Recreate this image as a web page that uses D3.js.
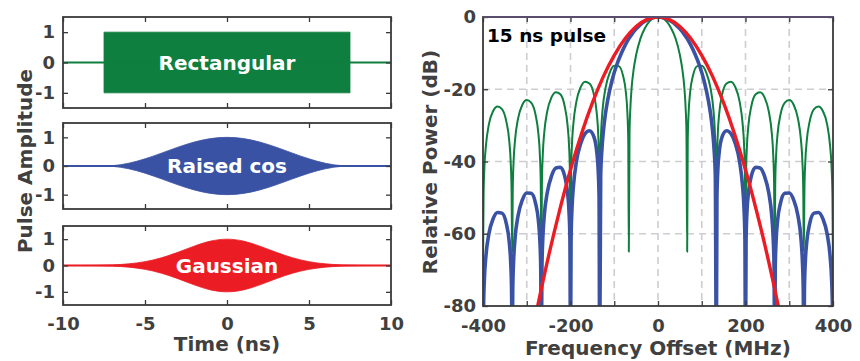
<!DOCTYPE html>
<html><head><meta charset="utf-8">
<script src="https://cdn.jsdelivr.net/npm/d3@7"></script>
<style>
body{margin:0;background:#fff;}
svg{display:block;font-family:"DejaVu Sans",sans-serif;font-weight:bold;}
</style></head><body>
<svg id="c" width="860" height="361"></svg>
<script>
// ---------------- data ----------------
const timeTicks = [-10, -5, 0, 5, 10];
const ampTicks = [-1, 0, 1];
const freqTicks = [-400, -300, -200, -100, 0, 100, 200, 300, 400];
const freqLabelTicks = [-400, -200, 0, 200, 400];
const dbTicks = [-80, -60, -40, -20, 0];
const freqGrid = [-300, -200, -100, 0, 100, 200, 300];
const dbGrid = [-60, -40, -20];
const pulseNames = ["Rectangular", "Raised cos", "Gaussian"];
const pulseColors = ["#0e7f3e", "#3a52a3", "#ec1c24"];

// time-domain envelopes (ns, amplitude)
const rectTime = [-10, -7.5, -7.5, 7.5, 7.5, 10];
const rectEnv  = [0, 0, 1, 1, 0, 0];
const cosTime  = [-10, -7.5, -7, -6, -5, -4, -3, -2, -1, 0, 1, 2, 3, 4, 5, 6, 7, 7.5, 10];
const cosEnv   = [0, 0, 0.011, 0.096, 0.25, 0.448, 0.655, 0.835, 0.957, 1, 0.957, 0.835, 0.655, 0.448, 0.25, 0.096, 0.011, 0, 0];
const gaussTime = [-10, -9, -8, -7, -6, -5, -4, -3, -2, -1, 0, 1, 2, 3, 4, 5, 6, 7, 8, 9, 10];
const gaussEnv  = [0.0005, 0.002, 0.007, 0.023, 0.063, 0.146, 0.292, 0.5, 0.735, 0.926, 1, 0.926, 0.735, 0.5, 0.292, 0.146, 0.063, 0.023, 0.007, 0.002, 0.0005];

// spectra (MHz, dB)
const rectSpectrum = [
 [-400,-70],[-398.7,-49.5],[-396.7,-41.5],[-393.3,-35.6],[-386.7,-29.8],[-376.7,-26.0],[-366.7,-24.8],[-356.7,-25.5],[-346.7,-28.9],[-340,-34.3],[-336.7,-40.1],[-334.7,-48.0],
 [-333.3,-65],[-332,-47.9],[-330,-39.9],[-326.7,-34.0],[-320,-28.2],[-310,-24.3],[-300,-23.0],[-290,-23.7],[-280,-27.0],[-273.3,-32.4],[-270,-38.2],[-268,-46.0],
 [-266.7,-65],[-265.3,-45.9],[-263.3,-38.0],[-260,-32.0],[-253.3,-26.2],[-243.3,-22.2],[-233.3,-20.8],[-223.3,-21.4],[-213.3,-24.7],[-206.7,-30.0],[-203.3,-35.7],[-201.3,-43.5],
 [-200,-65],[-198.7,-43.4],[-196.7,-35.4],[-193.3,-29.4],[-186.7,-23.5],[-176.7,-19.4],[-166.7,-17.9],[-156.7,-18.4],[-146.7,-21.4],[-140,-26.6],[-136.7,-32.3],[-134.7,-40.1],
 [-133.3,-65],[-132,-39.9],[-130,-31.9],[-126.7,-25.7],[-120,-19.7],[-110,-15.3],[-100,-13.5],[-90,-13.6],[-80,-16.2],[-73.3,-21.0],[-70,-26.5],[-68,-34.1],
 [-66.7,-65],[-65,-31.8],[-63,-24.8],[-60,-19.2],[-56,-14.8],[-50,-10.5],[-40,-5.9],[-30,-3.1],[-20,-1.3],[-10,-0.3],[0,0],
 [10,-0.3],[20,-1.3],[30,-3.1],[40,-5.9],[50,-10.5],[56,-14.8],[60,-19.2],[63,-24.8],[65,-31.8],[66.7,-65],
 [68,-34.1],[70,-26.5],[73.3,-21.0],[80,-16.2],[90,-13.6],[100,-13.5],[110,-15.3],[120,-19.7],[126.7,-25.7],[130,-31.9],[132,-39.9],[133.3,-65],
 [134.7,-40.1],[136.7,-32.3],[140,-26.6],[146.7,-21.4],[156.7,-18.4],[166.7,-17.9],[176.7,-19.4],[186.7,-23.5],[193.3,-29.4],[196.7,-35.4],[198.7,-43.4],[200,-65],
 [201.3,-43.5],[203.3,-35.7],[206.7,-30.0],[213.3,-24.7],[223.3,-21.4],[233.3,-20.8],[243.3,-22.2],[253.3,-26.2],[260,-32.0],[263.3,-38.0],[265.3,-45.9],[266.7,-65],
 [268,-46.0],[270,-38.2],[273.3,-32.4],[280,-27.0],[290,-23.7],[300,-23.0],[310,-24.3],[320,-28.2],[326.7,-34.0],[330,-39.9],[332,-47.9],[333.3,-65],
 [334.7,-48.0],[336.7,-40.1],[340,-34.3],[346.7,-28.9],[356.7,-25.5],[366.7,-24.8],[376.7,-26.0],[386.7,-29.8],[393.3,-35.6],[396.7,-41.5],[398.7,-49.5],[400,-70]
];
const cosSpectrum = [
 [-400,-95],[-398.7,-80.3],[-396.7,-72.3],[-393.3,-66.1],[-386.7,-60.1],[-376.7,-55.8],[-366.7,-54.1],[-356.7,-54.3],[-346.7,-57.2],[-340,-62.3],[-336.7,-67.9],[-334.7,-75.6],
 [-333.3,-95],[-332,-75.4],[-330,-67.4],[-326.7,-61.2],[-320,-55.1],[-310,-50.6],[-300,-48.7],[-290,-48.8],[-280,-51.5],[-273.3,-56.4],[-270,-61.9],[-268,-69.6],
 [-266.7,-95],[-265.3,-69.4],[-263.3,-61.3],[-260,-55.0],[-253.3,-48.7],[-243.3,-44.0],[-233.3,-41.8],[-223.3,-41.6],[-213.3,-44.0],[-206.7,-48.7],[-203.3,-54.1],[-201.3,-61.7],
 [-200,-95],[-198.7,-61.4],[-196.7,-53.2],[-193.3,-46.8],[-186.7,-40.2],[-176.7,-35.0],[-166.7,-32.3],[-156.7,-31.5],[-146.7,-33.1],[-140,-37.3],[-136.7,-42.4],[-134.7,-49.8],
 [-133.3,-95],[-131,-44.1],[-128,-36.3],[-125,-31.8],[-120,-26.7],[-115,-23.0],[-105,-17.5],[-95,-13.5],[-85,-10.4],[-75,-7.8],[-66.7,-6.0],[-60,-4.8],[-50,-3.3],[-40,-2.1],[-30,-1.2],[-20,-0.5],[-10,-0.1],[0,0],
 [10,-0.1],[20,-0.5],[30,-1.2],[40,-2.1],[50,-3.3],[60,-4.8],[66.7,-6.0],[75,-7.8],[85,-10.4],[95,-13.5],[105,-17.5],[115,-23.0],[120,-26.7],[125,-31.8],[128,-36.3],[131,-44.1],[133.3,-95],
 [134.7,-49.8],[136.7,-42.4],[140,-37.3],[146.7,-33.1],[156.7,-31.5],[166.7,-32.3],[176.7,-35.0],[186.7,-40.2],[193.3,-46.8],[196.7,-53.2],[198.7,-61.4],[200,-95],
 [201.3,-61.7],[203.3,-54.1],[206.7,-48.7],[213.3,-44.0],[223.3,-41.6],[233.3,-41.8],[243.3,-44.0],[253.3,-48.7],[260,-55.0],[263.3,-61.3],[265.3,-69.4],[266.7,-95],
 [268,-69.6],[270,-61.9],[273.3,-56.4],[280,-51.5],[290,-48.8],[300,-48.7],[310,-50.6],[320,-55.1],[326.7,-61.2],[330,-67.4],[332,-75.4],[333.3,-95],
 [334.7,-75.6],[336.7,-67.9],[340,-62.3],[346.7,-57.2],[356.7,-54.3],[366.7,-54.1],[376.7,-55.8],[386.7,-60.1],[393.3,-66.1],[396.7,-72.3],[398.7,-80.3],[400,-95]
];
const gaussSpectrum = [
 [-285,-85.9],[-275,-80],[-250,-66.1],[-225,-53.6],[-200,-42.3],[-175,-32.4],[-150,-23.8],[-125,-16.5],[-100,-10.6],[-75,-5.95],[-50,-2.64],[-25,-0.66],[0,0],
 [25,-0.66],[50,-2.64],[75,-5.95],[100,-10.6],[125,-16.5],[150,-23.8],[175,-32.4],[200,-42.3],[225,-53.6],[250,-66.1],[275,-80],[285,-85.9]
];

// ---------------- drawing ----------------
const svg = d3.select("#c");
const TXT = "#404040", AX = "#3a3a3a";

function styleAxis(g){
  g.select(".domain").remove();
  g.selectAll(".tick line").attr("stroke", AX).attr("stroke-width", 1.3);
  g.selectAll(".tick text").attr("fill", TXT).attr("font-size", 18)
    .attr("font-family", '"DejaVu Sans",sans-serif').attr("font-weight", "bold");
}
const fmt = d => String(d);

// left panels
const xT = d3.scaleLinear().domain([-10, 10]).range([63, 391]);
const panels = [
  {top: 17, bottom: 108, time: rectTime, env: rectEnv, curve: d3.curveLinear},
  {top: 123, bottom: 209, time: cosTime, env: cosEnv, curve: d3.curveMonotoneX},
  {top: 226, bottom: 305, time: gaussTime, env: gaussEnv, curve: d3.curveMonotoneX}
];
panels.forEach((p, i) => {
  const y = d3.scaleLinear().domain([-1.5, 1.5]).range([p.bottom, p.top]);
  const g = svg.append("g");
  const pts = p.time.map((t, k) => [t, p.env[k]]);
  g.append("path").datum(pts)
    .attr("d", d3.area().curve(p.curve).x(d => xT(d[0])).y0(d => y(-d[1])).y1(d => y(d[1])))
    .attr("fill", pulseColors[i]).attr("stroke", pulseColors[i]).attr("stroke-width", 0.8);
  g.append("path").datum(timeTicks.filter((d, k) => k === 0 || k === timeTicks.length - 1))
    .attr("d", d3.line().x(d => xT(d)).y(() => y(0)))
    .attr("stroke", pulseColors[i]).attr("stroke-width", 1.8).attr("fill", "none");
  // axes
  g.append("g").attr("transform", `translate(0,${p.bottom})`)
    .call(d3.axisBottom(xT).tickValues(timeTicks).tickFormat(i === 2 ? fmt : () => "").tickSizeInner(-5).tickSizeOuter(0).tickPadding(12))
    .call(styleAxis);
  g.append("g").attr("transform", `translate(0,${p.top})`)
    .call(d3.axisTop(xT).tickValues(timeTicks).tickFormat(() => "").tickSizeInner(-5).tickSizeOuter(0))
    .call(styleAxis);
  g.append("g").attr("transform", `translate(${xT.range()[0]},0)`)
    .call(d3.axisLeft(y).tickValues(ampTicks).tickFormat(fmt).tickSizeInner(-5).tickSizeOuter(0).tickPadding(8))
    .call(styleAxis);
  g.append("g").attr("transform", `translate(${xT.range()[1]},0)`)
    .call(d3.axisRight(y).tickValues(ampTicks).tickFormat(() => "").tickSizeInner(-5).tickSizeOuter(0))
    .call(styleAxis);
  g.append("rect").attr("x", xT.range()[0]).attr("y", p.top)
    .attr("width", xT.range()[1] - xT.range()[0]).attr("height", p.bottom - p.top)
    .attr("fill", "none").attr("stroke", AX).attr("stroke-width", 1.8);
  g.append("text").attr("x", xT(0)).attr("y", y(0) + 7).attr("text-anchor", "middle")
    .attr("fill", "#fff").attr("font-size", 20).text(pulseNames[i]);
});
svg.append("text").attr("transform", `translate(32,161) rotate(-90)`).attr("text-anchor", "middle")
  .attr("fill", TXT).attr("font-size", 20).text("Pulse Amplitude");
svg.append("text").attr("x", xT(0)).attr("y", 351).attr("text-anchor", "middle")
  .attr("fill", TXT).attr("font-size", 20).text("Time (ns)");

// right panel
const xF = d3.scaleLinear().domain([-400, 400]).range([483, 833]);
const yD = d3.scaleLinear().domain([-80, 0]).range([306, 17]);
const R = svg.append("g");
R.append("defs").append("clipPath").attr("id", "clipR").append("rect")
  .attr("x", xF(-400)).attr("y", yD(0)).attr("width", xF(400) - xF(-400)).attr("height", yD(-80) - yD(0));
const grid = R.append("g").attr("stroke", "#cdcdd2").attr("stroke-width", 1.6).attr("stroke-dasharray", "7,5");
grid.selectAll("line.v").data(freqGrid).join("line")
  .attr("x1", d => xF(d)).attr("x2", d => xF(d)).attr("y1", yD(0)).attr("y2", yD(-80));
grid.selectAll("line.h").data(dbGrid).join("line")
  .attr("y1", d => yD(d)).attr("y2", d => yD(d)).attr("x1", xF(-400)).attr("x2", xF(400));

const lineF = d3.line().curve(d3.curveMonotoneX).x(d => xF(d[0])).y(d => yD(d[1]));
const curves = R.append("g").attr("clip-path", "url(#clipR)").attr("fill", "none").attr("stroke-linejoin", "round");
curves.append("path").datum(rectSpectrum).attr("d", lineF).attr("stroke", pulseColors[0]).attr("stroke-width", 2);
curves.append("path").datum(cosSpectrum).attr("d", lineF).attr("stroke", pulseColors[1]).attr("stroke-width", 3.6);
curves.append("path").datum(gaussSpectrum).attr("d", lineF).attr("stroke", pulseColors[2]).attr("stroke-width", 3.4);

R.append("g").attr("transform", `translate(0,${yD(-80)})`)
  .call(d3.axisBottom(xF).tickValues(freqTicks).tickFormat(d => freqLabelTicks.includes(d) ? String(d) : "").tickSizeInner(-5).tickSizeOuter(0).tickPadding(13))
  .call(styleAxis);
R.append("g").attr("transform", `translate(0,${yD(0)})`)
  .call(d3.axisTop(xF).tickValues(freqTicks).tickFormat(() => "").tickSizeInner(-5).tickSizeOuter(0))
  .call(styleAxis);
R.append("g").attr("transform", `translate(${xF(-400)},0)`)
  .call(d3.axisLeft(yD).tickValues(dbTicks).tickFormat(fmt).tickSizeInner(-5).tickSizeOuter(0).tickPadding(7))
  .call(styleAxis);
R.append("g").attr("transform", `translate(${xF(400)},0)`)
  .call(d3.axisRight(yD).tickValues(dbTicks).tickFormat(() => "").tickSizeInner(-5).tickSizeOuter(0))
  .call(styleAxis);
R.append("rect").attr("x", xF(-400)).attr("y", yD(0)).attr("width", xF(400) - xF(-400)).attr("height", yD(-80) - yD(0))
  .attr("fill", "none").attr("stroke", AX).attr("stroke-width", 1.8);
R.append("line").attr("x1", xF(-400)).attr("x2", xF(400)).attr("y1", yD(0)).attr("y2", yD(0))
  .attr("stroke", "#5a4d6e").attr("stroke-width", 1.8);
R.append("text").attr("x", xF(-400) + 4).attr("y", 42).attr("fill", "#000").attr("font-size", 18.5).text("15 ns pulse");
svg.append("text").attr("transform", `translate(437,162) rotate(-90)`).attr("text-anchor", "middle")
  .attr("fill", TXT).attr("font-size", 20).text("Relative Power (dB)");
svg.append("text").attr("x", xF(0)).attr("y", 355).attr("text-anchor", "middle")
  .attr("fill", TXT).attr("font-size", 20).text("Frequency Offset (MHz)");
</script>
</body></html>
